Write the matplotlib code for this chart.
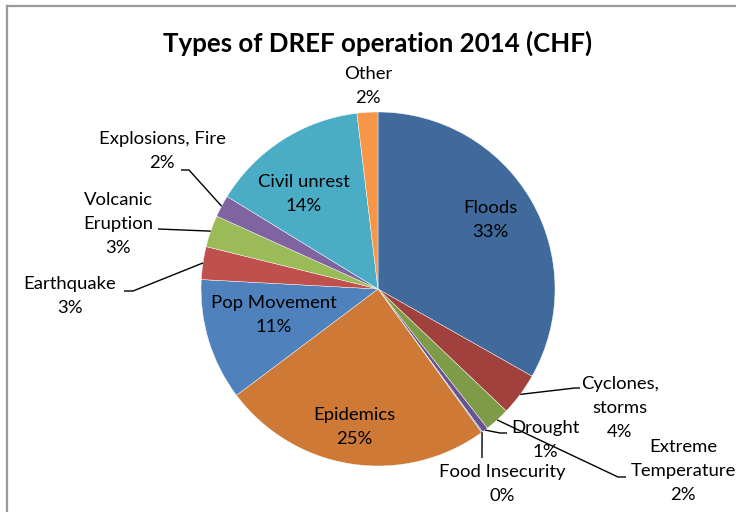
import matplotlib

matplotlib.use("Agg")
import matplotlib.pyplot as plt  # noqa: E402
import numpy as np  # noqa: E402
from matplotlib.lines import Line2D  # noqa: E402

plt.rcParams["font.family"] = ["Lato", "DejaVu Sans"]

# data (share of CHF, clockwise from 12 o'clock)
categories = [
    "Floods", "Cyclones,\nstorms", "Extreme\nTemperature", "Drought",
    "Food Insecurity", "Epidemics", "Pop Movement", "Earthquake",
    "Volcanic\nEruption", "Explosions, Fire", "Civil unrest", "Other",
]
shares = [33.2, 3.9, 2.3, 0.55, 0.1, 24.7, 11.1, 3.0, 2.9, 2.0, 14.35, 1.9]
pct_labels = ["33%", "4%", "2%", "1%", "0%", "25%", "11%", "3%", "3%", "2%", "14%", "2%"]
colors = [
    "#3F6A9B", "#A0413D", "#7E9C48", "#6A5290", "#3A98B0", "#CE7A36",
    "#4F81BD", "#C0504D", "#9BBB59", "#8064A2", "#4BACC6", "#F79646",
]

W, H = 736, 512
CX, CY, R = 378, 289, 177  # pie centre / radius in pixels


def px(x, y):
    """pixel position -> pie units"""
    return (x - CX) / R, (CY - y) / R


# label block centre (px) and leader-line points after the pie edge (px)
layout = {
    0: ((490, 220), None),
    1: ((620, 408), [(575, 388), (580, 388)]),
    2: ((683, 471), [(618, 477), (626, 477)]),
    3: ((545, 440), [(500, 433), (507, 433)]),
    4: ((502, 484), [(482, 458)]),
    5: ((354, 427), None),
    6: ((274, 315), None),
    7: ((70, 296), [(133, 291), (124, 291)]),
    8: ((118, 224), [(158, 229)]),
    9: ((162, 151), [(189, 170), (181, 170)]),
    10: ((304, 194), None),
    11: ((368, 86), None),
}

fig = plt.figure(figsize=(W / 100, H / 100), dpi=100)
ax = fig.add_axes([0, 0, 1, 1])

wedges, _ = ax.pie(
    shares, colors=colors, startangle=90, counterclock=False, radius=1.0,
    wedgeprops=dict(edgecolor="white", linewidth=0.3),
)
ax.set_xlim(-CX / R, (W - CX) / R)
ax.set_ylim((CY - H) / R, CY / R)
ax.set_aspect("equal")
ax.axis("off")

total = sum(shares)
cum = np.cumsum([0] + shares[:-1])
for i, (name, pct) in enumerate(zip(categories, pct_labels)):
    (lx, ly), leader = layout[i]
    x, y = px(lx, ly)
    ax.text(x, y, f"{name}\n{pct}", ha="center", va="center",
            fontsize=13.3, linespacing=1.58, color="black")
    if leader:
        mid = np.radians(90 - 360 * (cum[i] + shares[i] / 2) / total)
        pts = [(np.cos(mid), np.sin(mid))] + [px(*p) for p in leader]
        xs, ys = zip(*pts)
        ax.plot(xs, ys, color="black", lw=1.0, solid_capstyle="butt")

fig.text(0.513, 1 - 43 / H, "Types of DREF operation 2014 (CHF)", ha="center",
         va="center", fontsize=18.6, fontweight="bold")

# chart-area frame (left and top edges visible)
frame = dict(color="#9A9A9A", lw=1.6)
fig.add_artist(Line2D([7 / W, 7 / W], [0, 1 - 6 / H], **frame))
fig.add_artist(Line2D([7 / W, 1], [1 - 6 / H, 1 - 6 / H], **frame))

fig.savefig("out.png", dpi=100)
